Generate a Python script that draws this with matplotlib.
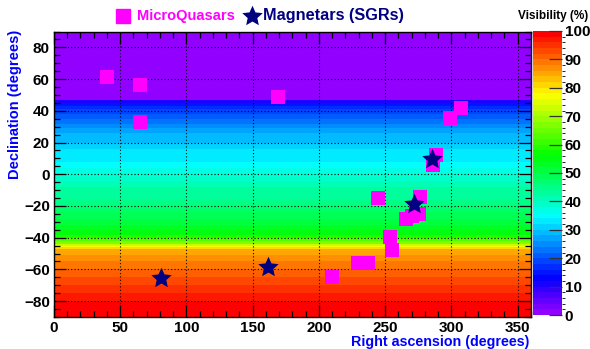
import colorsys
import numpy as np
import matplotlib
matplotlib.use("Agg")
import matplotlib.pyplot as plt
from matplotlib.colors import ListedColormap, BoundaryNorm
from matplotlib.lines import Line2D
from matplotlib.ticker import MultipleLocator

plt.rcParams['font.family'] = ['Liberation Sans', 'DejaVu Sans']
plt.rcParams['font.weight'] = 'bold'

# visibility (%) per declination band, constant in right ascension
dec_edges = [-90, -85, -80, -75, -70, -65, -60, -55, -51, -47, -46, -45, -44,
             -42, -40, -38, -35, -32, -28, -24, -20, -16, -12, -8, -4, 0,
             4, 8, 12, 16, 20, 23, 26, 29, 32, 35, 38, 41, 43, 45, 47, 90]
visibility = [99.5, 98, 96, 94, 92, 90, 88, 86, 84, 81, 76, 72,
              67, 62, 58, 55, 53, 51, 49, 47, 45, 43, 42, 40, 39,
              37, 35, 33, 32, 30, 29, 28, 27, 25, 23, 21, 19, 17, 14, 11, 1]
ra_edges = [0, 360]

# microquasars (ra, dec) in degrees
mq_ra = [40.0, 64.6, 65.1, 169.2, 307.5, 299.0, 288.0, 286.0, 244.2, 276.0,
         275.5, 270.0, 266.0, 253.5, 255.2, 229.6, 237.1, 209.5]
mq_dec = [61.4, 56.5, 33.2, 48.6, 41.6, 35.3, 12.1, 5.9, -15.1, -14.1,
          -24.8, -26.6, -28.3, -39.4, -47.8, -56.2, -55.8, -64.6]

# magnetars / soft gamma repeaters
sgr_ra = [81.0, 161.2, 271.7, 285.6]
sgr_dec = [-65.6, -58.7, -19.0, 9.8]

# 50 colour "pretty" palette, violet -> red
palette = [colorsys.hls_to_rgb((280.0 - (i + 1) * 5.6) / 360.0, 0.5, 1.0)
           for i in range(50)]
cmap = ListedColormap(palette)
norm = BoundaryNorm(np.linspace(0, 100, 51), 50)

MAGENTA = '#ff00ff'
NAVY = '#000080'
BLUE = '#0000ff'


def star_marker(inner=0.47):
    pts = []
    for k in range(10):
        ang = np.pi / 2 + k * np.pi / 5
        r = 1.0 if k % 2 == 0 else inner
        pts.append((r * np.cos(ang), r * np.sin(ang)))
    pts.append(pts[0])
    return pts


star = star_marker()

fig = plt.figure(figsize=(5.9, 3.49), dpi=100)
ax = fig.add_axes([0.0915, 0.0917, 0.8085, 0.818])
cax = fig.add_axes([0.9034, 0.0974, 0.049, 0.8138])

grid = np.array(visibility).reshape(-1, 1)
mesh = ax.pcolormesh(ra_edges, dec_edges, grid, cmap=cmap, norm=norm)

ax.set_xlim(0, 360)
ax.set_ylim(-90, 90)
ax.xaxis.set_major_locator(MultipleLocator(50))
ax.xaxis.set_minor_locator(MultipleLocator(10))
ax.yaxis.set_major_locator(MultipleLocator(20))
ax.yaxis.set_minor_locator(MultipleLocator(5))
ax.tick_params(which='both', direction='in', top=True, right=True,
               labelsize=11, width=0.9)
ax.tick_params(which='major', length=8.5)
ax.tick_params(which='minor', length=4.5)
ax.tick_params(axis='x', pad=3)
ax.tick_params(axis='y', pad=3)
ax.grid(True, which='major', color='black', linestyle=(0, (1, 2)),
        linewidth=0.8)
ax.set_axisbelow(False)
for sp in ax.spines.values():
    sp.set_linewidth(1.0)

ax.scatter(mq_ra, mq_dec, marker='s', s=10.0 ** 2, color=MAGENTA,
           linewidths=0, zorder=5)
ax.scatter(sgr_ra, sgr_dec, marker=star, s=15.5 ** 2, color=NAVY,
           linewidths=0, zorder=6)

cb = fig.colorbar(mesh, cax=cax, ticks=np.arange(0, 101, 10))
cb.outline.set_visible(False)
cax.tick_params(direction='in', length=9.5, width=0.9, color='#333333',
                labelsize=11, pad=2)

fig.text(0.898, 0.02, 'Right ascension (degrees)', color=BLUE,
         fontsize=10.3, ha='right', va='center')
fig.text(0.025, 0.915, 'Declination (degrees)', color=BLUE, fontsize=10.5,
         rotation=90, ha='center', va='top')
fig.text(0.997, 0.955, 'Visibility (%)', color='black', fontsize=8.5,
         ha='right', va='center')

# legend above the frame
fig.add_artist(Line2D([0.2085], [0.955], marker='s', markersize=10,
                      color=MAGENTA, linestyle='none',
                      transform=fig.transFigure))
fig.text(0.232, 0.955, 'MicroQuasars', color=MAGENTA, fontsize=10.5,
         ha='left', va='center')
fig.add_artist(Line2D([0.4265], [0.955], marker=star, markersize=15.5,
                      color=NAVY, markeredgewidth=0, linestyle='none',
                      transform=fig.transFigure))
fig.text(0.446, 0.955, 'Magnetars (SGRs)', color=NAVY, fontsize=11.7,
         ha='left', va='center')

fig.savefig('out.png', dpi=100)
